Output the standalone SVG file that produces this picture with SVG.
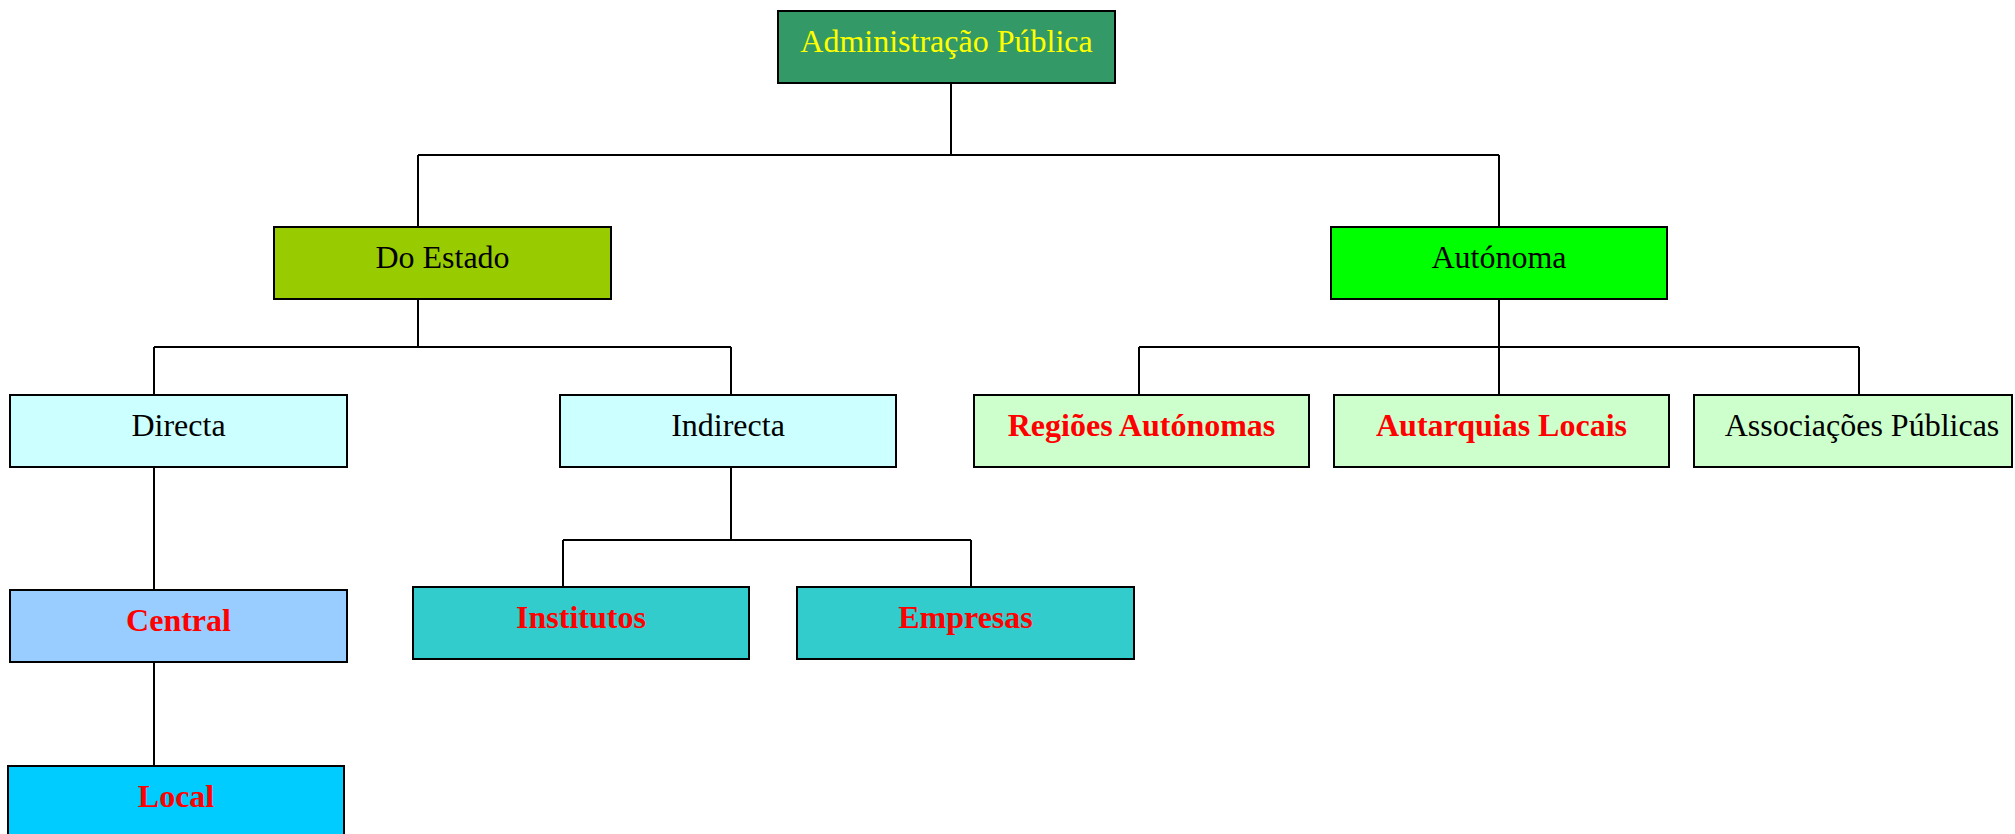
<svg xmlns="http://www.w3.org/2000/svg" width="2015" height="834" viewBox="0 0 2015 834">
<style>
.box{stroke:#000;stroke-width:2}
.t{font-family:"Liberation Serif","Times New Roman",serif;font-size:32px;text-anchor:middle;fill:#000}
.b{font-weight:bold;fill:#FF0000}
.c{fill:none;stroke:#000;stroke-width:2}
</style>
<rect width="2015" height="834" fill="#fff"/>
<g id="connectors" class="c">
<path d="M951 83V155M418 155H1499M418 155V227M1499 155V227"/>
<path d="M418 299V347M154 347H731M154 347V395M731 347V395"/>
<path d="M154 467V590M154 662V766"/>
<path d="M731 467V540M563 540H971M563 540V587M971 540V587"/>
<path d="M1499 299V347M1139 347H1859M1139 347V395M1499 347V395M1859 347V395"/>
</g>
<g id="admin"><rect class="box" x="778" y="11" width="337" height="72" fill="#339966"/><text class="t" x="946.5" y="52" style="fill:#FFFF00">Administração Pública</text></g>
<g id="estado"><rect class="box" x="274" y="227" width="337" height="72" fill="#99CC00"/><text class="t" x="442.5" y="268">Do Estado</text></g>
<g id="autonoma"><rect class="box" x="1331" y="227" width="336" height="72" fill="#00FF00"/><text class="t" x="1499" y="268">Autónoma</text></g>
<g id="directa"><rect class="box" x="10" y="395" width="337" height="72" fill="#CCFFFF"/><text class="t" x="178.5" y="436">Directa</text></g>
<g id="indirecta"><rect class="box" x="560" y="395" width="336" height="72" fill="#CCFFFF"/><text class="t" x="728" y="436">Indirecta</text></g>
<g id="regioes"><rect class="box" x="974" y="395" width="335" height="72" fill="#CCFFCC"/><text class="t b" x="1141.5" y="436">Regiões Autónomas</text></g>
<g id="autarquias"><rect class="box" x="1334" y="395" width="335" height="72" fill="#CCFFCC"/><text class="t b" x="1501.5" y="436">Autarquias Locais</text></g>
<g id="associacoes"><rect class="box" x="1694" y="395" width="318" height="72" fill="#CCFFCC"/><text class="t" x="1862" y="436">Associações Públicas</text></g>
<g id="central"><rect class="box" x="10" y="590" width="337" height="72" fill="#99CCFF"/><text class="t b" x="178.5" y="631">Central</text></g>
<g id="institutos"><rect class="box" x="413" y="587" width="336" height="72" fill="#33CCCC"/><text class="t b" x="581" y="628">Institutos</text></g>
<g id="empresas"><rect class="box" x="797" y="587" width="337" height="72" fill="#33CCCC"/><text class="t b" x="965.5" y="628">Empresas</text></g>
<g id="local"><rect class="box" x="8" y="766" width="336" height="72" fill="#00CCFF"/><text class="t b" x="176" y="807">Local</text></g>
</svg>
